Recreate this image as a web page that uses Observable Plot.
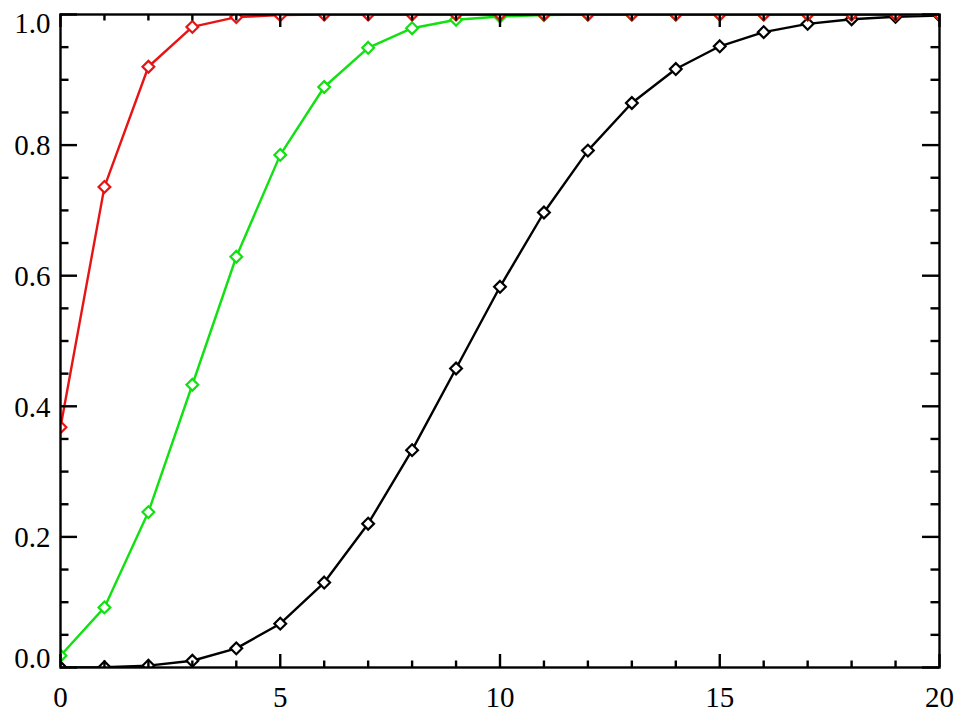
<!DOCTYPE html>
<html>
<head>
<meta charset="utf-8">
<script src="https://cdn.jsdelivr.net/npm/d3@7"></script>
<script src="https://cdn.jsdelivr.net/npm/@observablehq/plot@0.6"></script>
<style>
  html, body { margin: 0; padding: 0; background: #fff; }
</style>
</head>
<body>
<div id="chart"></div>
<script>
const xs = [0,1,2,3,4,5,6,7,8,9,10,11,12,13,14,15,16,17,18,19,20];
const redVals = [0.368,0.736,0.920,0.981,0.996,0.999,1,1,1,1,1,1,1,1,1,1,1,1,1,1,1];
const greenVals = [0.018,0.092,0.238,0.433,0.629,0.785,0.889,0.949,0.979,0.992,0.997,0.999,1,1,1,1,1,1,1,1,1];
const blackVals = [0.00005,0.0005,0.0028,0.0103,0.0293,0.0671,0.1301,0.2202,0.3328,0.4579,0.5830,0.6968,0.7916,0.8645,0.9165,0.9513,0.9730,0.9857,0.9928,0.9965,0.9984];

const xMajorTicks = [0,5,10,15,20];
const xMinorTicks = [1,2,3,4,6,7,8,9,11,12,13,14,16,17,18,19];
const yMajorTicks = [0,0.2,0.4,0.6,0.8,1.0];
const yMinorTicks = [0.05,0.1,0.15,0.25,0.3,0.35,0.45,0.5,0.55,0.65,0.7,0.75,0.85,0.9,0.95];
const yMidLabels = [0.2,0.4,0.6,0.8];

const series = [
  {name: "black", color: "#000000", vals: blackVals},
  {name: "green", color: "#11e011", vals: greenVals},
  {name: "red", color: "#e81414", vals: redVals}
];

const W = 960, H = 720;
const mL = 60, mR = 21, mT = 14, mB = 53;
const pw = W - mL - mR, ph = H - mT - mB;
const xMajLen = 13, xMinLen = 6.5, yMajLen = 17, yMinLen = 8.5;

const marks = [];
for (const s of series) {
  const data = xs.map((x, i) => ({x, y: s.vals[i]}));
  marks.push(Plot.line(data, {x: "x", y: "y", stroke: s.color, strokeWidth: 2.4, clip: true}));
  marks.push(Plot.dot(data, {x: "x", y: "y", symbol: "diamond2", r: 5.3, stroke: s.color, fill: "white", strokeWidth: 2.2, clip: true}));
}

// ticks (inward) on all four sides
const tk = {stroke: "black", strokeWidth: 2.4};
marks.push(Plot.tickX(xMajorTicks, {x: d => d, insetTop: ph - xMajLen, ...tk}));
marks.push(Plot.tickX(xMinorTicks, {x: d => d, insetTop: ph - xMinLen, ...tk}));
marks.push(Plot.tickX(xMajorTicks, {x: d => d, insetBottom: ph - xMajLen, ...tk}));
marks.push(Plot.tickX(xMinorTicks, {x: d => d, insetBottom: ph - xMinLen, ...tk}));
marks.push(Plot.tickY(yMajorTicks, {y: d => d, insetRight: pw - yMajLen, ...tk}));
marks.push(Plot.tickY(yMinorTicks, {y: d => d, insetRight: pw - yMinLen, ...tk}));
marks.push(Plot.tickY(yMajorTicks, {y: d => d, insetLeft: pw - yMajLen, ...tk}));
marks.push(Plot.tickY(yMinorTicks, {y: d => d, insetLeft: pw - yMinLen, ...tk}));

marks.push(Plot.frame({stroke: "black", strokeWidth: 2.4}));

// labels
const fmt = d3.format(".1f");
const fs = 29;
marks.push(Plot.axisX({ticks: xMajorTicks, tickSize: 0, tickPadding: 19, tickFormat: d => String(d), label: null, fontSize: fs}));
marks.push(Plot.axisY({ticks: yMidLabels, tickSize: 0, tickPadding: 10, tickFormat: fmt, label: null, dy: 1, fontSize: fs}));
marks.push(Plot.axisY({ticks: [1.0], tickSize: 0, tickPadding: 10, tickFormat: fmt, label: null, dy: 9, fontSize: fs}));
marks.push(Plot.axisY({ticks: [0], tickSize: 0, tickPadding: 10, tickFormat: fmt, label: null, dy: -9, fontSize: fs}));

const chart = Plot.plot({
  width: W, height: H,
  marginLeft: mL, marginRight: mR, marginTop: mT, marginBottom: mB,
  x: {domain: [0, 20]},
  y: {domain: [0, 1]},
  style: {fontFamily: "'Liberation Serif', 'Times New Roman', serif", fontSize: "29px", color: "black", background: "white"},
  marks
});
document.getElementById("chart").appendChild(chart);
</script>
</body>
</html>
